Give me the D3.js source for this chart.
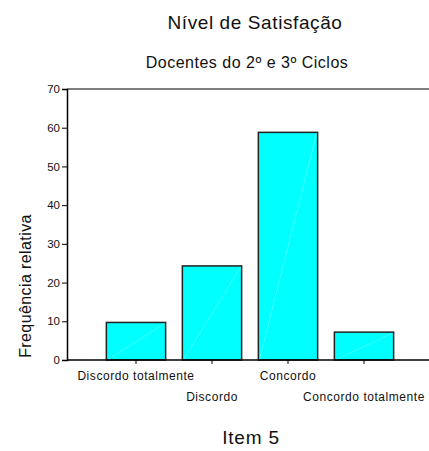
<!DOCTYPE html>
<html>
<head>
<meta charset="utf-8">
<script src="https://cdn.jsdelivr.net/npm/d3@7"></script>
<style>
  body { margin: 0; background: #fff; }
  svg { font-family: "Liberation Sans", Arial, sans-serif; }
</style>
</head>
<body>
<div class="display"></div>
<script>
const categories = ['Discordo totalmente', 'Discordo', 'Concordo', 'Concordo totalmente'];
const values = [9.7, 24.3, 58.8, 7.2];
const yTicks = [0, 10, 20, 30, 40, 50, 60, 70];

const width = 429;
const height = 451;

const svg = d3.select('.display')
    .append('svg')
    .attr('width', width)
    .attr('height', height);

const xScale = d3.scaleBand()
    .domain(categories)
    .range([98, 402])
    .paddingInner(0.22)
    .paddingOuter(0.11);

const yScale = d3.scaleLinear()
    .domain([0, 70])
    .range([360, 89]);

// top border line
svg.append('line')
    .attr('x1', 67).attr('x2', width)
    .attr('y1', yScale(70)).attr('y2', yScale(70))
    .attr('stroke', '#555')
    .attr('stroke-width', 1.5);

// bars
const bars = svg.selectAll('.bar')
    .data(values)
    .enter()
    .append('g')
    .attr('class', 'bar');

bars.append('rect')
    .attr('x', (d, i) => xScale(categories[i]))
    .attr('y', d => yScale(d))
    .attr('width', xScale.bandwidth())
    .attr('height', d => yScale(0) - yScale(d))
    .attr('fill', '#00ffff')
    .attr('stroke', '#222')
    .attr('stroke-width', 1.5);

// faint diagonal highlight inside each bar
bars.append('line')
    .attr('x1', (d, i) => xScale(categories[i]) + 1)
    .attr('y1', yScale(0))
    .attr('x2', (d, i) => xScale(categories[i]) + xScale.bandwidth() - 1)
    .attr('y2', d => yScale(d) + 1)
    .attr('stroke', '#ffffff')
    .attr('stroke-opacity', 0.35)
    .attr('stroke-width', 0.7);

// y axis
const yAxis = d3.axisLeft(yScale).tickValues(yTicks).tickSize(5).tickPadding(2);
const gy = svg.append('g')
    .attr('transform', 'translate(67, 0)')
    .call(yAxis);
gy.select('.domain').attr('stroke', '#000').attr('stroke-width', 1.5);
gy.selectAll('text').attr('font-size', 11.5).attr('fill', '#111');

// x axis
const xAxis = d3.axisBottom(xScale).tickSize(4).tickSizeOuter(0).tickFormat('');
const gx = svg.append('g')
    .attr('transform', `translate(0, ${yScale(0)})`)
    .call(xAxis);
gx.select('.domain').attr('d', `M67,0H${width}`).attr('stroke', '#000').attr('stroke-width', 1.5);

// staggered category labels
svg.selectAll('.xlabel')
    .data(categories)
    .enter()
    .append('text')
    .attr('class', 'xlabel')
    .attr('x', d => xScale(d) + xScale.bandwidth() / 2)
    .attr('y', (d, i) => i % 2 === 0 ? 380 : 401)
    .attr('text-anchor', 'middle')
    .attr('font-size', 12)
    .attr('letter-spacing', 0.55)
    .attr('fill', '#111')
    .text(d => d);

// titles
svg.append('text')
    .attr('x', 255).attr('y', 29)
    .attr('text-anchor', 'middle')
    .attr('font-size', 19)
    .attr('letter-spacing', 0.6)
    .attr('fill', '#111')
    .text('Nível de Satisfação');

svg.append('text')
    .attr('x', 247).attr('y', 68)
    .attr('text-anchor', 'middle')
    .attr('font-size', 16)
    .attr('letter-spacing', 0.5)
    .attr('fill', '#111')
    .text('Docentes do 2º e 3º Ciclos');

svg.append('text')
    .attr('x', 251).attr('y', 444)
    .attr('text-anchor', 'middle')
    .attr('font-size', 19)
    .attr('letter-spacing', 0.8)
    .attr('fill', '#111')
    .text('Item 5');

svg.append('text')
    .attr('transform', 'translate(31, 286) rotate(-90)')
    .attr('text-anchor', 'middle')
    .attr('font-size', 16)
    .attr('letter-spacing', 0.4)
    .attr('fill', '#111')
    .text('Frequência relativa');
</script>
</body>
</html>
